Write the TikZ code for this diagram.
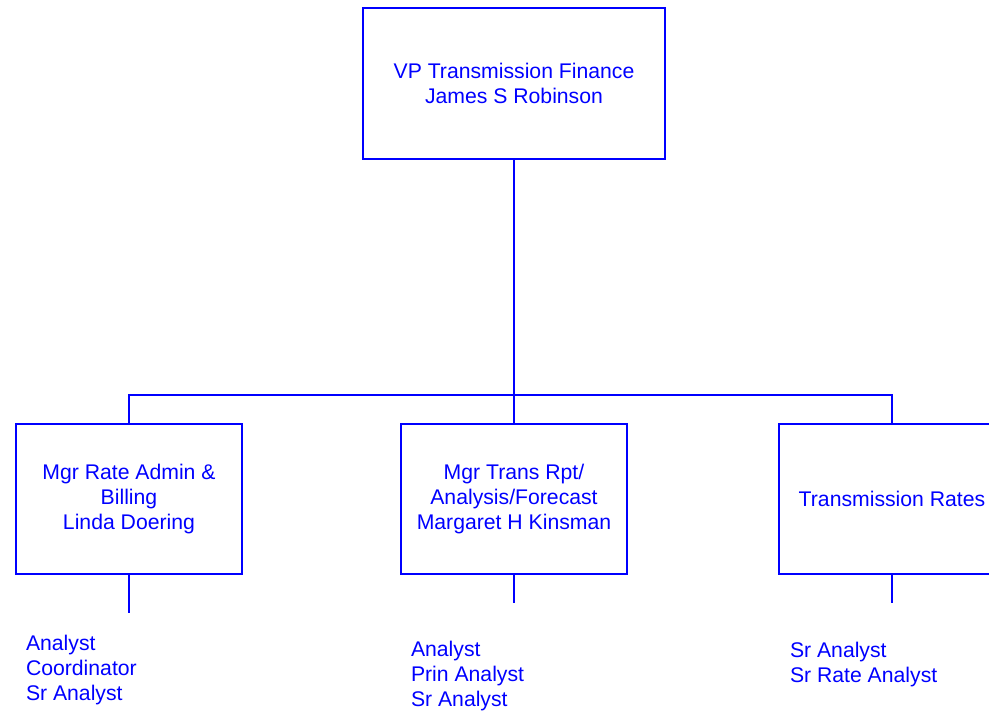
\documentclass[tikz,border=0pt]{standalone}
\usepackage{fontspec}
\setmainfont{Liberation Sans}
\usepackage{xcolor}
\usepackage{tikz}
\usetikzlibrary{positioning}

\begin{document}
\begin{tikzpicture}[x=1pt,y=-1pt,line width=2pt,draw=blue,
    every node/.style={text=blue,font=\fontsize{21.2}{25}\selectfont},
    box/.style={draw=blue,line width=2pt,rectangle,align=center,minimum width=226pt,minimum height=150pt,inner sep=0pt},
    staff/.style={anchor=north west,align=left,inner sep=0pt}]
                \useasboundingbox (0,0) rectangle (989,715);
                \node[box,minimum width=302pt,minimum height=151pt] (vp) at (514,83) {VP Transmission Finance\\James S Robinson};
                \node[box] (rate) at (129,499) {Mgr Rate Admin \&\\Billing\\Linda Doering};
                \node[box] (rpt) at (514,499) {Mgr Trans Rpt/\\Analysis/Forecast\\Margaret H Kinsman};
                \node[box] (trans) at (892,499) {Transmission Rates};
                \coordinate (bar) at (514,395);
                \draw[blue] (vp.south) -- (bar) -| (rate.north);
                \draw[blue] (bar) -- (rpt.north);
                \draw[blue] (bar) -| (trans.north);
                \draw[blue] (rate.south) -- ++(0,38);
                \draw[blue] (rpt.south) -- ++(0,28);
                \draw[blue] (trans.south) -- ++(0,28);
                \node[staff] (ratestaff) at (25,634) {Analyst\\Coordinator\\Sr Analyst};
                \node[staff] (rptstaff) at (410,640) {Analyst\\Prin Analyst\\Sr Analyst};
                \node[staff] (transstaff) at (789,641) {Sr Analyst\\Sr Rate Analyst};
            \end{tikzpicture}
\end{document}
